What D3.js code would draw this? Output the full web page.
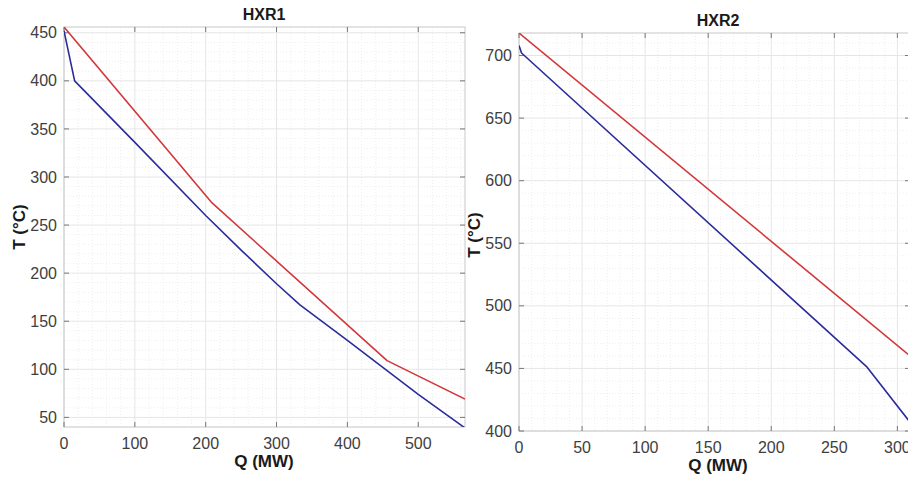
<!DOCTYPE html>
<html>
<head>
<meta charset="utf-8">
<script src="https://d3js.org/d3.v7.min.js"></script>
<style>
  body { margin: 0; background: #fff; }
  text { font-family: Arial, 'Liberation Sans', Helvetica, sans-serif; }
  .tick-label { font-size: 16px; fill: #404040; }
  .title, .axis-label { font-weight: bold; fill: #1a1a1a; }
  .grid-major { stroke: #e6e6e6; stroke-width: 1; }
  .grid-minor { stroke: #eeeeee; stroke-width: 1; stroke-dasharray: 1,2; }
  .frame { fill: none; stroke: #c8c8c8; stroke-width: 1; }
  .tickmark { stroke: #777; stroke-width: 1; }
  .curve { fill: none; stroke-width: 1.6; stroke-linejoin: round; }
</style>
</head>
<body>
<script>
// HXR1 - hot side (red) and cold side (blue)
var hxr1HotQ  = [0, 209, 456, 566];
var hxr1HotT  = [456, 273, 109, 69];
var hxr1ColdQ = [0, 15, 100, 200, 250, 300, 333, 400, 500, 566];
var hxr1ColdT = [452, 400, 336, 260, 224, 189, 167, 130, 74, 39];
var hxr1XTicks = [0, 100, 200, 300, 400, 500];
var hxr1YTicks = [50, 100, 150, 200, 250, 300, 350, 400, 450];

// HXR2
var hxr2HotQ  = [0, 310];
var hxr2HotT  = [718, 460];
var hxr2ColdQ = [0, 2, 276, 310];
var hxr2ColdT = [708, 702, 451, 407];
var hxr2XTicks = [0, 50, 100, 150, 200, 250, 300];
var hxr2YTicks = [400, 450, 500, 550, 600, 650, 700];

var W = 908, H = 479;
var svg = d3.select("body").append("svg")
  .attr("width", W).attr("height", H);

function zip(q, t) { return q.map(function(d, i) { return [d, t[i]]; }); }

function panel(o) {
  var g = svg.append("g");
  var x = d3.scaleLinear().domain(o.xd).range([o.left, o.right]);
  var y = d3.scaleLinear().domain(o.yd).range([o.bottom, o.top]);

  var clipId = "clip" + o.name;
  svg.append("clipPath").attr("id", clipId).append("rect")
    .attr("x", o.left).attr("y", o.top)
    .attr("width", o.right - o.left).attr("height", o.bottom - o.top);

  // minor grid
  var xMinor = d3.range(o.xd[0], o.xd[1] + 0.001, o.xMinor).filter(function(v) { return o.xTicks.indexOf(v) < 0; });
  var yMinor = d3.range(Math.ceil(o.yd[0] / o.yMinor) * o.yMinor, o.yd[1] + 0.001, o.yMinor).filter(function(v) { return o.yTicks.indexOf(v) < 0; });
  g.selectAll(".vmin").data(xMinor).enter().append("line").attr("class", "grid-minor")
    .attr("x1", x).attr("x2", x).attr("y1", o.top).attr("y2", o.bottom);
  g.selectAll(".hmin").data(yMinor).enter().append("line").attr("class", "grid-minor")
    .attr("y1", y).attr("y2", y).attr("x1", o.left).attr("x2", o.right);

  // major grid
  g.selectAll(".vmaj").data(o.xTicks).enter().append("line").attr("class", "grid-major")
    .attr("x1", x).attr("x2", x).attr("y1", o.top).attr("y2", o.bottom);
  g.selectAll(".hmaj").data(o.yTicks).enter().append("line").attr("class", "grid-major")
    .attr("y1", y).attr("y2", y).attr("x1", o.left).attr("x2", o.right);

  g.append("rect").attr("class", "frame")
    .attr("x", o.left).attr("y", o.top)
    .attr("width", o.right - o.left).attr("height", o.bottom - o.top);

  // tick marks on all four sides, pointing inward
  var tl = 5;
  o.xTicks.forEach(function(v) {
    g.append("line").attr("class", "tickmark").attr("x1", x(v)).attr("x2", x(v)).attr("y1", o.bottom).attr("y2", o.bottom - tl);
    g.append("line").attr("class", "tickmark").attr("x1", x(v)).attr("x2", x(v)).attr("y1", o.top).attr("y2", o.top + tl);
  });
  o.yTicks.forEach(function(v) {
    g.append("line").attr("class", "tickmark").attr("y1", y(v)).attr("y2", y(v)).attr("x1", o.left).attr("x2", o.left + tl);
    g.append("line").attr("class", "tickmark").attr("y1", y(v)).attr("y2", y(v)).attr("x1", o.right).attr("x2", o.right - tl);
  });

  // tick labels
  g.selectAll(".xl").data(o.xTicks).enter().append("text").attr("class", "tick-label")
    .attr("x", x).attr("y", o.bottom + 22).attr("text-anchor", "middle").text(function(d) { return d; });
  g.selectAll(".yl").data(o.yTicks).enter().append("text").attr("class", "tick-label")
    .attr("x", o.left - 7).attr("y", y).attr("dy", "0.35em").attr("text-anchor", "end").text(function(d) { return d; });

  var line = d3.line().x(function(d) { return x(d[0]); }).y(function(d) { return y(d[1]); });
  g.append("path").attr("class", "curve").attr("clip-path", "url(#" + clipId + ")")
    .attr("stroke", "#d2373a").attr("d", line(o.hot));
  g.append("path").attr("class", "curve").attr("clip-path", "url(#" + clipId + ")")
    .attr("stroke", "#2b2b9c").attr("d", line(o.cold));

  var cx = o.titleX;
  g.append("text").attr("class", "title").attr("x", cx).attr("y", o.top - 7)
    .attr("text-anchor", "middle").style("font-size", "16px").text(o.name);
  g.append("text").attr("class", "axis-label").attr("x", cx).attr("y", o.bottom + 40)
    .attr("text-anchor", "middle").style("font-size", "17px").text("Q (MW)");
  g.append("text").attr("class", "axis-label")
    .attr("transform", "translate(" + o.yLabelX + "," + o.yLabelY + ") rotate(-90)")
    .attr("text-anchor", "middle").style("font-size", "17px").text("T (°C)");
}

panel({
  name: "HXR1", left: 64, right: 465, top: 27, bottom: 427,
  xd: [0, 566], yd: [40, 456], xMinor: 20, yMinor: 10,
  xTicks: hxr1XTicks, yTicks: hxr1YTicks,
  hot: zip(hxr1HotQ, hxr1HotT), cold: zip(hxr1ColdQ, hxr1ColdT),
  titleX: 264, yLabelX: 25, yLabelY: 227
});

panel({
  name: "HXR2", left: 519, right: 910, top: 33, bottom: 431,
  xd: [0, 310], yd: [400, 718], xMinor: 10, yMinor: 10,
  xTicks: hxr2XTicks, yTicks: hxr2YTicks,
  hot: zip(hxr2HotQ, hxr2HotT), cold: zip(hxr2ColdQ, hxr2ColdT),
  titleX: 718, yLabelX: 480, yLabelY: 235
});
</script>
</body>
</html>
